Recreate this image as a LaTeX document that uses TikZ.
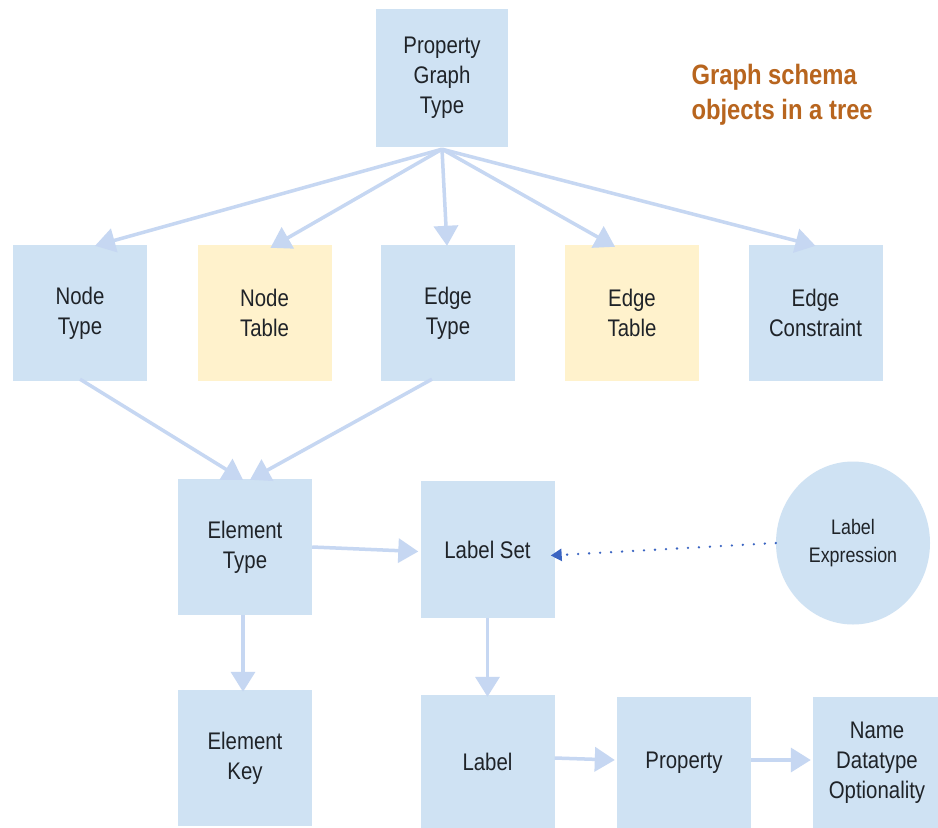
\documentclass[tikz,border=0pt]{standalone}
\usepackage{fontspec}
\setmainfont[FakeStretch=0.85]{Liberation Sans}
\usetikzlibrary{arrows.meta,shapes.geometric}
\definecolor{boxblue}{HTML}{CFE2F3}
\definecolor{boxyellow}{HTML}{FFF2CC}
\definecolor{linkblue}{HTML}{C6D7F2}
\definecolor{dotblue}{HTML}{3A64C2}
\definecolor{titlebrown}{HTML}{B8651E}
\definecolor{ink}{HTML}{1F2328}
\tikzset{
  x=1pt, y=-1pt,
  obj/.style={fill=boxblue, draw=none, minimum width=134pt, minimum height=136pt,
    align=center, text=ink, font=\fontsize{24}{30}\selectfont, inner sep=0pt},
  tbl/.style={obj, fill=boxyellow},
  link/.style={draw=linkblue, line width=3.5pt,
    -{Triangle[length=20pt,width=24pt]}},
  hint/.style={draw=dotblue, line width=2.6pt, line cap=round,
    dash pattern=on 0pt off 11pt,
    -{Triangle[length=11pt,width=12pt]}},
}
\begin{document}
\begin{tikzpicture}
\useasboundingbox (0,0) rectangle (938,828);
\fill[white] (0,0) rectangle (938,828);

% root
\node[obj, minimum width=132pt, minimum height=138pt] (pgt) at (442,78) {Property\\Graph\\Type};
\node[anchor=west, align=left, text=titlebrown, font=\fontsize{28}{35}\selectfont\bfseries]
  (title) at (688,95) {Graph schema\\objects in a tree};

% second row
\node[obj] (ntype)  at (80,313)    {Node\\Type};
\node[tbl] (ntable) at (264.5,313) {Node\\Table};
\node[obj] (etype)  at (448,313)   {Edge\\Type};
\node[tbl] (etable) at (632,313)   {Edge\\Table};
\node[obj] (econ)   at (815.5,313) {Edge\\Constraint};

% element level
\node[obj] (eltype) at (245,547) {Element\\Type};
\node[obj, minimum height=137pt] (lset) at (487.5,549.5) {Label Set};
\node[ellipse, fill=boxblue, minimum width=154pt, minimum height=163pt, inner sep=0pt,
  align=center, text=ink, font=\fontsize{21}{28}\selectfont] (lexpr) at (853,543) {Label\\Expression};

% bottom row
\node[obj] (elkey) at (245,758) {Element\\Key};
\node[obj, minimum height=134pt] (lab)  at (487.5,762) {Label};
\node[obj, minimum height=132pt] (prop) at (684,763)   {Property};
\node[obj, minimum width=128pt, minimum height=132pt] (nameopt) at (877,763) {Name\\Datatype\\Optionality};

% links from the root
\draw[link] ([yshift=-2pt]pgt.south) -- ([xshift=15pt,yshift=-1pt]ntype.north);
\draw[link] ([yshift=-2pt]pgt.south) -- ([xshift=6pt,yshift=-3pt]ntable.north);
\draw[link] ([yshift=-2pt]pgt.south) -- ([xshift=-1pt,yshift=-1pt]etype.north);
\draw[link] ([yshift=-2pt]pgt.south) -- ([xshift=-17pt,yshift=-2pt]etable.north);
\draw[link] ([yshift=-2pt]pgt.south) -- ([xshift=0pt,yshift=-1pt]econ.north);

% types to element type
\draw[link] ([yshift=2pt]ntype.south) -- ([xshift=-2pt,yshift=-1pt]eltype.north);
\draw[link] ([xshift=-16pt,yshift=2pt]etype.south) -- ([xshift=5pt,yshift=-1pt]eltype.north);

% element level links
\draw[link] (eltype.east) -- ([xshift=-2pt,yshift=-2pt]lset.west);
\draw[link] ([xshift=-2pt]eltype.south) -- ([xshift=-2pt,yshift=-2pt]elkey.north);
\draw[link] (lset.south) -- ([yshift=-2pt]lab.north);
\draw[link] ([yshift=4pt]lab.east) -- ([xshift=-2pt,yshift=3pt]prop.west);
\draw[link] ([yshift=3pt]prop.east) -- ([xshift=-2pt,yshift=3pt]nameopt.west);

% label expression hint
\draw[hint] (lexpr.west) -- ([xshift=-4pt,yshift=-6pt]lset.east);
\end{tikzpicture}
\end{document}
